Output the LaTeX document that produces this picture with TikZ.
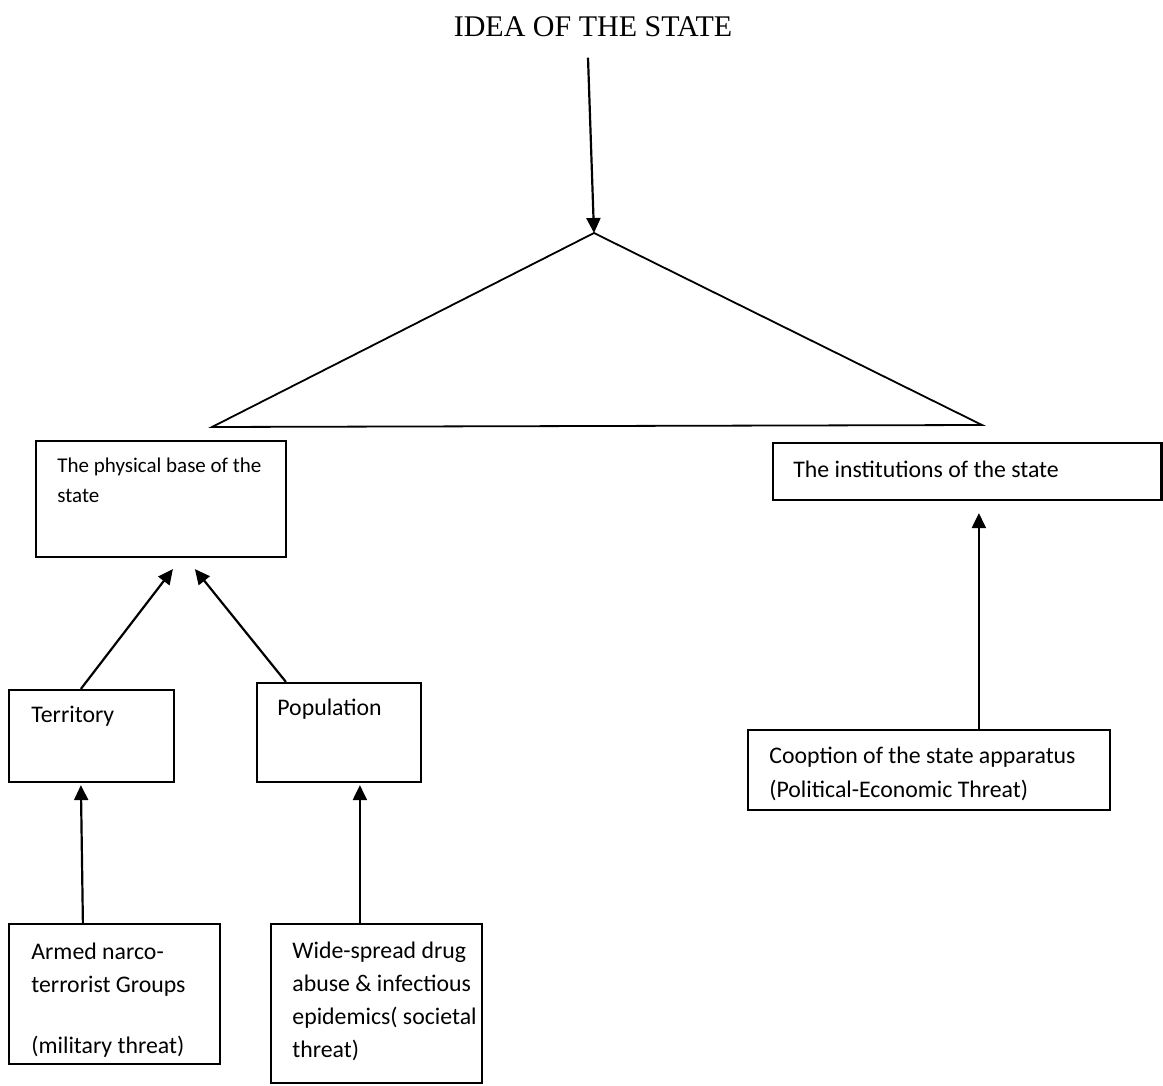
\documentclass[tikz,border=0pt]{standalone}
\usepackage{fontspec}
\setmainfont{Carlito}
\newfontfamily\titlefont{Liberation Serif}
\usetikzlibrary{arrows.meta,fit}
\begin{document}
\begin{tikzpicture}[x=0.5pt,y=-0.5pt,
  box/.style={draw, line width=1.1pt, inner sep=0pt},
  % multi-line texts are placed by the baseline of their last line
  txt/.style={anchor=base west, inner sep=0pt, align=left,
              font=\fontsize{11.9pt}{16.5pt}\selectfont},
  arr/.style={line width=1.1pt, -{Triangle[length=7.5pt,width=7pt]}},
]
\useasboundingbox (0,0) rectangle (1163,1086);

% heading and the arrow into the triangle
\node[anchor=base, inner sep=0pt, font=\titlefont\fontsize{15pt}{18pt}\selectfont]
  (title) at (593,37) {IDEA OF THE STATE};
\coordinate (apex) at (594,233);
\coordinate (triL) at (212,427);
\coordinate (triR) at (982,425);
\draw[line width=0.9pt] (triL) -- (apex) -- (triR) -- cycle;
\draw[arr] ([xshift=-2.5pt,yshift=-10pt]title.south) -- (apex);

% boxes
\node[box, fit={(36,441) (286,557)}] (phys) {};
\node[box, fit={(773,443) (1161.5,500)}] (inst) {};
\node[box, fit={(9,690) (174,782)}] (terr) {};
\node[box, fit={(257,683) (421,782)}] (pop) {};
\node[box, fit={(9,924) (220,1064)}] (armed) {};
\node[box, fit={(271,924) (482,1083)}] (wide) {};
\node[box, fit={(748,730) (1110,810)}] (coop) {};

% box texts
\node[txt, font=\fontsize{10.5pt}{15pt}\selectfont] (physT) at (57,502)
  {The physical base of the\\state};
\node[txt] (instT) at (793,477) {The institutions of the state};
\node[txt] (terrT) at (31,722) {Territory};
\node[txt] (popT) at (277,715) {Population};
\node[txt] (armedT) at (31,1053)
  {Armed narco-\\terrorist Groups\\[14pt](military threat)};
\node[txt] (wideT) at (292,1057)
  {Wide-spread drug\\abuse \& infectious\\epidemics( societal\\threat)};
\node[txt, font=\fontsize{11.9pt}{17pt}\selectfont] (coopT) at (769,797)
  {Cooption of the state apparatus\\(Political-Economic Threat)};

% connectors
\draw[arr] ([xshift=36.5pt]terr.north west) -- ([xshift=69pt,yshift=-5.5pt]phys.south west);
\draw[arr] ([xshift=15pt]pop.north west) -- ([xshift=80pt,yshift=-5.5pt]phys.south west);
\draw[arr] ([xshift=37.5pt]armed.north west) -- ([xshift=36.5pt,yshift=-1pt]terr.south west);
\draw[arr] ([xshift=45pt]wide.north west) -- ([xshift=52pt,yshift=-1pt]pop.south west);
\draw[arr] ([xshift=116pt]coop.north west) -- ([xshift=103.5pt,yshift=-6pt]inst.south west);
\end{tikzpicture}
\end{document}
